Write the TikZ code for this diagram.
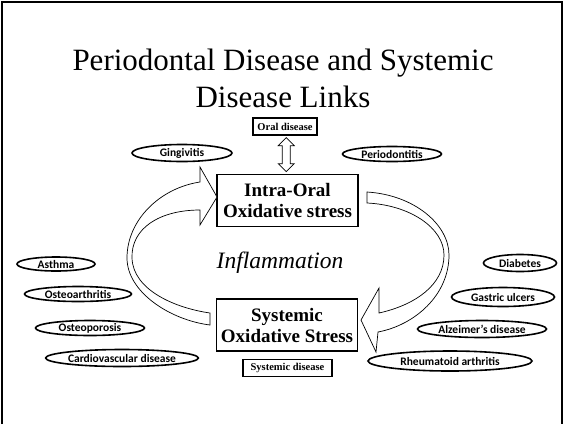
\documentclass[tikz,border=0pt]{standalone}
\usepackage{fontspec}
\setmainfont{Liberation Serif}
\newfontfamily\calibrifont{Carlito}
\usetikzlibrary{shapes.geometric}

\begin{document}
\begin{tikzpicture}[x=1pt,y=-1pt,
    disease/.style={ellipse, draw, line width=1.6pt, inner sep=0pt,
        font=\calibrifont\bfseries\fontsize{11.5}{13}\selectfont},
    stressbox/.style={draw, line width=1.5pt, inner sep=0pt, minimum width=141pt,
        minimum height=52pt, align=center, font=\bfseries\fontsize{19}{21}\selectfont},
    smallbox/.style={draw, line width=1.3pt, inner sep=0pt, minimum height=17pt,
        font=\bfseries\fontsize{10.5}{12}\selectfont},
    blockarrow/.style={draw, fill=white, line width=0.7pt, line join=miter}]
\useasboundingbox (0,0) rectangle (564,424);
% slide frame
\draw [line width=2pt] (2,424) -- (2,2) -- (562,2) -- (562,424);
% title
\node [align=center, font=\fontsize{31}{37}\selectfont, anchor=base] (title) at (283,107)
    {Periodontal Disease and Systemic\\Disease Links};
% centre boxes
\node [smallbox, minimum width=64pt] (oral) at (285,126.5) {Oral disease};
\node [stressbox] (intra) at (287.5,200.5) {Intra-Oral\\Oxidative stress};
\node [font=\itshape\fontsize{23.5}{26}\selectfont, anchor=base] (infl) at (280,268) {Inflammation};
\node [stressbox] (syst) at (287,325) {Systemic\\Oxidative Stress};
\node [smallbox, minimum width=89pt] (sysdis) at (287.5,368) {Systemic disease};
% oral diseases
\node [disease, minimum width=100pt, minimum height=17pt] (gingi) at (182,153) {Gingivitis};
\node [disease, minimum width=99pt, minimum height=15pt] (perio) at (392,154) {Periodontitis};
% systemic diseases, left
\node [disease, minimum width=78pt, minimum height=14pt] (asthma) at (56,264) {Asthma};
\node [disease, minimum width=107pt, minimum height=15pt] (osteoarth) at (78,294) {Osteoarthritis};
\node [disease, minimum width=109pt, minimum height=15pt] (osteopor) at (90,328) {Osteoporosis};
\node [disease, minimum width=150pt, minimum height=17pt] (cardio) at (122,358) {Cardiovascular disease};
% systemic diseases, right
\node [disease, minimum width=73pt, minimum height=17pt] (diab) at (520,263) {Diabetes};
\node [disease, minimum width=103pt, minimum height=19pt] (gastric) at (503,297) {Gastric ulcers};
\node [disease, minimum width=129pt, minimum height=17pt] (alz) at (482,329) {Alzeimer’s disease};
\node [disease, minimum width=164pt, minimum height=20pt] (rheum) at (450,361) {Rheumatoid arthritis};
% hollow double arrow oral disease <-> intra-oral stress
\path (oral.south) -- (intra.north) coordinate[midway] (dbl);
\draw [blockarrow] (dbl) ++(0,-17) -- ++(8,8) -- ++(-4,0) -- ++(0,18) -- ++(4,0)
    -- ++(-8,8) -- ++(-8,-8) -- ++(4,0) -- ++(0,-18) -- ++(-4,0) -- cycle;
% curved arrow up the left side
\draw [blockarrow] (217,197) -- (200,167) -- (200,182)
    .. controls (160,188) and (127,220) .. (127,258)
    .. controls (127,292) and (170,320) .. (210,325) -- (210,313)
    .. controls (175,308) and (133,290) .. (132,258)
    .. controls (131,228) and (160,210) .. (200,210) -- (200,225) -- cycle;
% curved arrow down the right side
\draw [blockarrow] (367,192) .. controls (415,195) and (449,225) .. (449,255)
    .. controls (449,295) and (415,325) .. (378,332) -- (376,352) -- (361,320)
    -- (379,288) -- (379,313) .. controls (415,305) and (444,285) .. (444,255)
    .. controls (444,228) and (410,205) .. (367,203) -- cycle;
\end{tikzpicture}
\end{document}
